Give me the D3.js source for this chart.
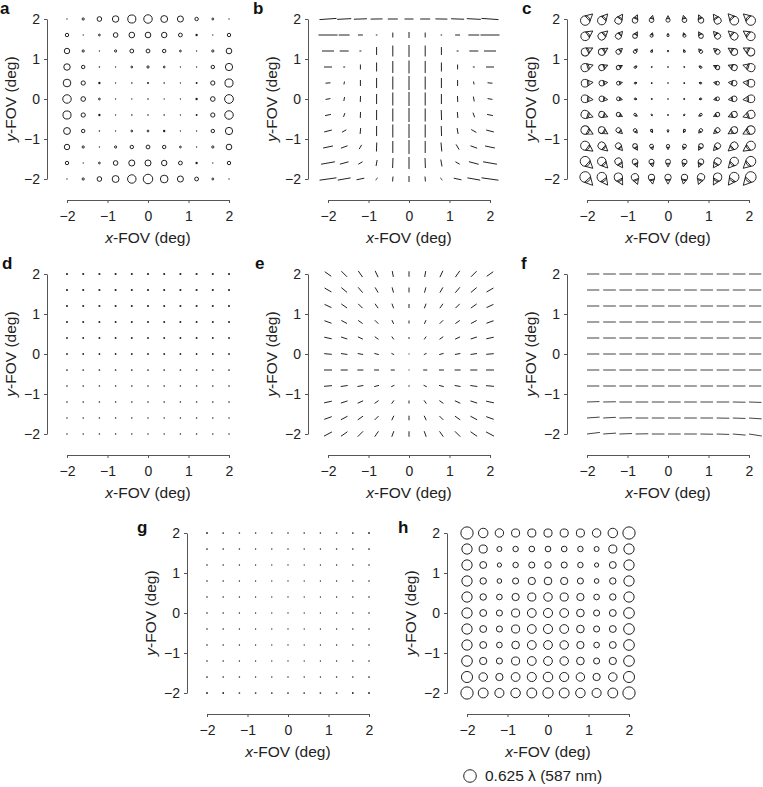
<!DOCTYPE html>
<html>
<head>
<meta charset="utf-8">
<script src="https://cdn.jsdelivr.net/npm/d3@7"></script>
<style>
body { margin: 0; background: #fff; }
svg { display: block; }
text { font-family: "Liberation Sans", Arial, Helvetica, sans-serif; fill: #222; }
.axis path, .axis line { stroke: #555; }
.axis text { font-family: "Liberation Sans", Arial, sans-serif; font-size: 14px; fill: #222; }
.lab { font-size: 15.5px; }
.letter { font-size: 17px; font-weight: bold; fill: #111; }
</style>
</head>
<body>
<svg width="763" height="787"></svg>
<script>
// Field grid (deg)
const xFov = [-2, -1.6, -1.2, -0.8, -0.4, 0, 0.4, 0.8, 1.2, 1.6, 2];
const yFov = [2, 1.6, 1.2, 0.8, 0.4, 0, -0.4, -0.8, -1.2, -1.6, -2];
const tickValues = [-2, -1, 0, 1, 2];
const legendValue = 0.625;
const legendLabel = "0.625 λ (587 nm)";

// a: defocus magnitude (waves), rows top (y=2) to bottom (y=-2)
const defocusA = [
  [0.02, 0.11, 0.23, 0.32, 0.40, 0.42, 0.34, 0.30, 0.17, 0.095, 0.02],
  [0.17, 0.02, 0.09, 0.23, 0.28, 0.28, 0.27, 0.19, 0.08, 0.02, 0.17],
  [0.27, 0.11, 0.02, 0.11, 0.19, 0.19, 0.17, 0.09, 0.02, 0.11, 0.28],
  [0.32, 0.17, 0.04, 0.02, 0.09, 0.11, 0.09, 0.02, 0.02, 0.17, 0.36],
  [0.38, 0.21, 0.08, 0.02, 0.04, 0.06, 0.04, 0.02, 0.06, 0.21, 0.40],
  [0.42, 0.23, 0.09, 0.02, 0.02, 0.04, 0.02, 0.02, 0.08, 0.23, 0.435],
  [0.40, 0.21, 0.08, 0.02, 0.04, 0.04, 0.04, 0.02, 0.06, 0.21, 0.42],
  [0.34, 0.17, 0.04, 0.02, 0.09, 0.09, 0.08, 0.02, 0.02, 0.17, 0.36],
  [0.27, 0.11, 0.02, 0.11, 0.17, 0.19, 0.17, 0.09, 0.02, 0.11, 0.28],
  [0.17, 0.02, 0.09, 0.23, 0.30, 0.30, 0.27, 0.19, 0.08, 0.02, 0.17],
  [0.02, 0.11, 0.23, 0.34, 0.42, 0.47, 0.38, 0.30, 0.19, 0.095, 0.02]
];

// b: astigmatism magnitude (waves) and axis angle (deg)
const astigB = [
  [0.97, 0.80, 0.74, 0.68, 0.57, 0.51, 0.57, 0.68, 0.74, 0.80, 0.97],
  [1.08, 0.62, 0.28, 0.085, 0.28, 0.34, 0.28, 0.085, 0.28, 0.62, 1.08],
  [0.68, 0.51, 0.11, 0.45, 0.62, 0.68, 0.62, 0.45, 0.11, 0.51, 0.68],
  [0.45, 0.11, 0.28, 0.51, 0.68, 0.74, 0.68, 0.51, 0.28, 0.11, 0.45],
  [0.28, 0.17, 0.34, 0.57, 0.74, 0.80, 0.74, 0.57, 0.34, 0.17, 0.28],
  [0.28, 0.23, 0.34, 0.57, 0.74, 0.80, 0.74, 0.57, 0.34, 0.28, 0.28],
  [0.34, 0.23, 0.34, 0.57, 0.74, 0.80, 0.74, 0.57, 0.34, 0.28, 0.34],
  [0.45, 0.28, 0.34, 0.57, 0.74, 0.80, 0.74, 0.57, 0.34, 0.34, 0.45],
  [0.57, 0.40, 0.28, 0.51, 0.68, 0.80, 0.68, 0.51, 0.34, 0.40, 0.57],
  [0.80, 0.51, 0.28, 0.34, 0.57, 0.68, 0.57, 0.40, 0.28, 0.57, 0.80],
  [0.97, 0.74, 0.45, 0.17, 0.28, 0.34, 0.28, 0.17, 0.45, 0.74, 0.97]
];
const astigAngB = [
  [4, 3, 2, 1, 0, 0, 0, -1, -2, -3, -4],
  [0, 0, 0, 0, 90, 90, 90, 0, 0, 0, 0],
  [0, 0, 0, 90, 90, 90, 90, 90, 0, 0, 0],
  [0, 0, 90, 90, 90, 90, 90, 90, 90, 0, 0],
  [5, 80, 90, 90, 90, 90, 90, 90, 90, 100, -5],
  [10, 80, 88, 90, 90, 90, 90, 90, 92, 100, -10],
  [12, 70, 88, 90, 90, 90, 90, 92, 95, 110, -12],
  [14, 30, 85, 90, 90, 90, 90, 92, 100, 150, -14],
  [12, 20, 60, 88, 90, 90, 90, 95, 120, 160, -12],
  [10, 15, 30, 80, 88, 90, 92, 100, 150, 165, -10],
  [8, 10, 12, 45, 85, 90, 95, 135, 168, 170, -8]
];

// c: coma magnitude (waves) and direction (deg)
const comaC = [
  [0.47, 0.42, 0.36, 0.28, 0.23, 0.21, 0.23, 0.28, 0.36, 0.435, 0.47],
  [0.435, 0.38, 0.30, 0.23, 0.15, 0.11, 0.15, 0.23, 0.30, 0.38, 0.435],
  [0.40, 0.34, 0.25, 0.17, 0.09, 0.06, 0.09, 0.17, 0.25, 0.34, 0.40],
  [0.40, 0.30, 0.21, 0.11, 0.04, 0.02, 0.04, 0.11, 0.21, 0.30, 0.40],
  [0.38, 0.28, 0.19, 0.09, 0.02, 0.01, 0.02, 0.09, 0.19, 0.28, 0.38],
  [0.38, 0.28, 0.19, 0.09, 0.03, 0.01, 0.03, 0.09, 0.19, 0.28, 0.38],
  [0.40, 0.30, 0.21, 0.13, 0.06, 0.04, 0.06, 0.13, 0.21, 0.30, 0.40],
  [0.42, 0.34, 0.25, 0.17, 0.11, 0.09, 0.11, 0.17, 0.25, 0.34, 0.42],
  [0.45, 0.38, 0.30, 0.23, 0.19, 0.17, 0.19, 0.23, 0.30, 0.38, 0.45],
  [0.49, 0.42, 0.36, 0.28, 0.25, 0.25, 0.25, 0.28, 0.36, 0.42, 0.49],
  [0.53, 0.47, 0.42, 0.36, 0.32, 0.32, 0.32, 0.36, 0.42, 0.47, 0.53]
];
const comaAngC = [
  [42, 48, 56, 66, 77, 90, 103, 114, 124, 132, 138],
  [35, 41, 49, 60, 74, 90, 106, 120, 131, 139, 145],
  [27, 32, 40, 51, 68, 90, 112, 129, 140, 148, 153],
  [17, 21, 27, 37, 56, 90, 124, 143, 153, 159, 163],
  [6, 7, 10, 14, 27, 90, 153, 166, 170, 173, 174],
  [-6, -7, -10, -14, -27, -90, -153, -166, -170, -173, -174],
  [-17, -21, -27, -37, -56, -90, -124, -143, -153, -159, -163],
  [-27, -32, -40, -51, -68, -90, -112, -129, -140, -148, -153],
  [-35, -41, -49, -60, -74, -90, -106, -120, -131, -139, -145],
  [-42, -48, -56, -66, -77, -90, -103, -114, -124, -132, -138],
  [-48, -54, -61, -70, -80, -90, -100, -110, -119, -126, -132]
];

// d: spherical (waves)
const sphericalD = [
  [0.07, 0.07, 0.07, 0.07, 0.07, 0.07, 0.07, 0.07, 0.07, 0.07, 0.07],
  [0.07, 0.07, 0.07, 0.07, 0.07, 0.07, 0.07, 0.07, 0.07, 0.07, 0.07],
  [0.065, 0.065, 0.065, 0.065, 0.065, 0.065, 0.065, 0.065, 0.065, 0.065, 0.065],
  [0.06, 0.06, 0.06, 0.06, 0.06, 0.06, 0.06, 0.06, 0.06, 0.06, 0.06],
  [0.055, 0.055, 0.055, 0.055, 0.055, 0.055, 0.055, 0.055, 0.055, 0.055, 0.055],
  [0.05, 0.05, 0.05, 0.05, 0.05, 0.05, 0.05, 0.05, 0.05, 0.05, 0.05],
  [0.045, 0.045, 0.045, 0.045, 0.045, 0.045, 0.045, 0.045, 0.045, 0.045, 0.045],
  [0.04, 0.04, 0.04, 0.04, 0.04, 0.04, 0.04, 0.04, 0.04, 0.04, 0.04],
  [0.04, 0.04, 0.04, 0.04, 0.04, 0.04, 0.04, 0.04, 0.04, 0.04, 0.04],
  [0.035, 0.035, 0.035, 0.035, 0.035, 0.035, 0.035, 0.035, 0.035, 0.035, 0.035],
  [0.035, 0.035, 0.035, 0.035, 0.035, 0.035, 0.035, 0.035, 0.035, 0.035, 0.035]
];

// e: second astigmatism magnitude (waves) and angle (deg)
const astigE = [
  [0.45, 0.45, 0.43, 0.40, 0.34, 0.31, 0.34, 0.40, 0.43, 0.45, 0.45],
  [0.45, 0.43, 0.40, 0.34, 0.31, 0.28, 0.31, 0.34, 0.40, 0.43, 0.45],
  [0.43, 0.40, 0.34, 0.31, 0.28, 0.23, 0.28, 0.31, 0.34, 0.40, 0.43],
  [0.43, 0.37, 0.31, 0.28, 0.23, 0.17, 0.23, 0.28, 0.31, 0.37, 0.43],
  [0.43, 0.37, 0.31, 0.26, 0.20, 0.11, 0.20, 0.26, 0.31, 0.37, 0.43],
  [0.43, 0.37, 0.31, 0.26, 0.17, 0.06, 0.17, 0.26, 0.31, 0.37, 0.43],
  [0.45, 0.40, 0.34, 0.28, 0.23, 0.06, 0.23, 0.28, 0.34, 0.40, 0.45],
  [0.45, 0.40, 0.34, 0.28, 0.20, 0.085, 0.20, 0.28, 0.34, 0.40, 0.45],
  [0.45, 0.40, 0.34, 0.28, 0.23, 0.17, 0.23, 0.28, 0.34, 0.40, 0.45],
  [0.45, 0.43, 0.37, 0.31, 0.28, 0.26, 0.28, 0.31, 0.37, 0.43, 0.45],
  [0.51, 0.45, 0.43, 0.37, 0.34, 0.31, 0.34, 0.37, 0.43, 0.45, 0.51]
];
const astigAngE = [
  [-35, -45, -55, -65, -80, 90, 80, 65, 55, 45, 35],
  [-30, -40, -50, -60, -75, 90, 75, 60, 50, 40, 30],
  [-25, -35, -45, -55, -70, 90, 70, 55, 45, 35, 25],
  [-20, -28, -35, -45, -65, 90, 65, 45, 35, 28, 20],
  [-12, -18, -25, -35, -55, 90, 55, 35, 25, 18, 12],
  [-5, -8, -10, -15, -25, 90, 25, 15, 10, 8, 5],
  [0, 0, 0, 0, 0, 0, 0, 0, 0, 0, 0],
  [5, 8, 10, 15, 25, 90, -25, -15, -10, -8, -5],
  [12, 18, 25, 35, 55, 90, -55, -35, -25, -18, -12],
  [20, 28, 35, 45, 65, 90, -65, -45, -35, -28, -20],
  [28, 35, 45, 55, 70, 90, -70, -55, -45, -35, -28]
];

// f: tilt magnitude (waves) and angle (deg)
const tiltF = [
  [0.70, 0.72, 0.72, 0.72, 0.72, 0.72, 0.72, 0.72, 0.72, 0.72, 0.70],
  [0.70, 0.72, 0.72, 0.72, 0.72, 0.72, 0.72, 0.72, 0.72, 0.72, 0.70],
  [0.70, 0.72, 0.72, 0.72, 0.72, 0.72, 0.72, 0.72, 0.72, 0.72, 0.70],
  [0.70, 0.72, 0.72, 0.72, 0.72, 0.72, 0.72, 0.72, 0.72, 0.72, 0.70],
  [0.70, 0.72, 0.72, 0.72, 0.72, 0.72, 0.72, 0.72, 0.72, 0.72, 0.70],
  [0.70, 0.72, 0.72, 0.72, 0.72, 0.72, 0.72, 0.72, 0.72, 0.72, 0.70],
  [0.70, 0.72, 0.72, 0.72, 0.72, 0.72, 0.72, 0.72, 0.72, 0.72, 0.70],
  [0.70, 0.72, 0.72, 0.72, 0.72, 0.72, 0.72, 0.72, 0.72, 0.72, 0.70],
  [0.71, 0.72, 0.72, 0.72, 0.72, 0.72, 0.72, 0.72, 0.72, 0.72, 0.71],
  [0.72, 0.72, 0.72, 0.72, 0.72, 0.72, 0.72, 0.72, 0.72, 0.72, 0.72],
  [0.74, 0.73, 0.72, 0.72, 0.72, 0.72, 0.72, 0.72, 0.72, 0.73, 0.74]
];
const tiltAngF = [
  [0, 0, 0, 0, 0, 0, 0, 0, 0, 0, 0],
  [0, 0, 0, 0, 0, 0, 0, 0, 0, 0, 0],
  [0, 0, 0, 0, 0, 0, 0, 0, 0, 0, 0],
  [0, 0, 0, 0, 0, 0, 0, 0, 0, 0, 0],
  [0, 0, 0, 0, 0, 0, 0, 0, 0, 0, 0],
  [0, 0, 0, 0, 0, 0, 0, 0, 0, 0, 0],
  [0, 0, 0, 0, 0, 0, 0, 0, 0, 0, 0],
  [0, 0, 0, 0, 0, 0, 0, 0, 0, 0, 0],
  [2, 1, 0, 0, 0, 0, 0, 0, 0, -1, -2],
  [4, 3, 1, 0, 0, 0, 0, 0, -1, -2, -4],
  [7, 4, 2, 1, 0, 0, 0, -1, -2, -5, -9]
];

// g: residual (waves)
const residualG = [
  [0.05, 0.045, 0.04, 0.04, 0.04, 0.04, 0.04, 0.04, 0.04, 0.045, 0.05],
  [0.045, 0.04, 0.035, 0.03, 0.03, 0.03, 0.03, 0.03, 0.035, 0.04, 0.045],
  [0.04, 0.035, 0.03, 0.025, 0.02, 0.02, 0.02, 0.025, 0.03, 0.035, 0.04],
  [0.04, 0.035, 0.03, 0.025, 0.02, 0.02, 0.02, 0.025, 0.03, 0.035, 0.04],
  [0.04, 0.035, 0.03, 0.025, 0.02, 0.02, 0.02, 0.025, 0.03, 0.035, 0.04],
  [0.04, 0.035, 0.03, 0.025, 0.02, 0.02, 0.02, 0.025, 0.03, 0.035, 0.04],
  [0.04, 0.035, 0.03, 0.025, 0.02, 0.02, 0.02, 0.025, 0.03, 0.035, 0.04],
  [0.04, 0.035, 0.03, 0.025, 0.02, 0.02, 0.02, 0.025, 0.03, 0.035, 0.04],
  [0.04, 0.035, 0.03, 0.025, 0.02, 0.02, 0.02, 0.025, 0.03, 0.035, 0.04],
  [0.045, 0.04, 0.035, 0.03, 0.03, 0.03, 0.03, 0.03, 0.035, 0.04, 0.045],
  [0.055, 0.05, 0.045, 0.045, 0.045, 0.045, 0.045, 0.045, 0.045, 0.05, 0.055]
];

// h: RMS wavefront error (waves)
const rmsH = [
  [0.61, 0.47, 0.42, 0.40, 0.40, 0.40, 0.40, 0.40, 0.42, 0.47, 0.61],
  [0.51, 0.40, 0.25, 0.27, 0.28, 0.28, 0.28, 0.27, 0.25, 0.40, 0.51],
  [0.51, 0.34, 0.21, 0.27, 0.30, 0.32, 0.30, 0.27, 0.21, 0.34, 0.51],
  [0.51, 0.32, 0.23, 0.30, 0.36, 0.38, 0.36, 0.30, 0.23, 0.32, 0.51],
  [0.51, 0.32, 0.28, 0.36, 0.40, 0.42, 0.40, 0.36, 0.28, 0.32, 0.51],
  [0.51, 0.34, 0.30, 0.40, 0.435, 0.45, 0.435, 0.38, 0.30, 0.34, 0.53],
  [0.51, 0.34, 0.30, 0.40, 0.435, 0.45, 0.435, 0.38, 0.30, 0.34, 0.53],
  [0.51, 0.34, 0.28, 0.38, 0.435, 0.435, 0.42, 0.36, 0.28, 0.34, 0.53],
  [0.53, 0.36, 0.30, 0.40, 0.435, 0.435, 0.42, 0.38, 0.30, 0.36, 0.53],
  [0.55, 0.42, 0.36, 0.435, 0.45, 0.47, 0.45, 0.42, 0.36, 0.42, 0.55],
  [0.61, 0.49, 0.45, 0.47, 0.49, 0.51, 0.49, 0.47, 0.45, 0.49, 0.61]
];

// The svg
let svg = d3.select("svg");

// waves -> circle radius in px (legend circle is 0.625 waves)
let radius = d3.scaleLinear().domain([0, legendValue]).range([0, 6.3]);
// waves -> half length of a line glyph in px
let half = d3.scaleLinear().domain([0, legendValue]).range([0, 5.5]);
let rad = Math.PI / 180;
let fmt = d3.format("d");

function cells(mag, ang) {
  let out = [];
  yFov.forEach(function(y, i) {
    xFov.forEach(function(x, j) {
      out.push({x: x, y: y, v: mag[i][j], a: ang ? ang[i][j] : 0});
    });
  });
  return out;
}

// panel layout: y-axis position, top of plot, letter offset
let panels = [
  {id: "a", ax: 47,  top: 19,  lx: -47, ly: -5, kind: "circle", d: cells(defocusA)},
  {id: "b", ax: 308, top: 19,  lx: -55, ly: -5, kind: "line", d: cells(astigB, astigAngB)},
  {id: "c", ax: 567, top: 19,  lx: -45, ly: -5, kind: "coma", d: cells(comaC, comaAngC)},
  {id: "d", ax: 47,  top: 274, lx: -45, ly: -5, kind: "circle", d: cells(sphericalD)},
  {id: "e", ax: 308, top: 274, lx: -53, ly: -5, kind: "line", d: cells(astigE, astigAngE)},
  {id: "f", ax: 567, top: 274, lx: -46, ly: -5, kind: "vector", d: cells(tiltF, tiltAngF)},
  {id: "g", ax: 187, top: 533, lx: -50, ly: 0,  kind: "circle", d: cells(residualG)},
  {id: "h", ax: 447, top: 533, lx: -49, ly: 0,  kind: "circle", d: cells(rmsH), legend: true}
];

panels.forEach(function(p) {
  let g = svg.append("g").attr("transform", "translate(" + p.ax + "," + p.top + ")");
  let x = d3.scaleLinear().domain([-2, 2]).range([20, 182]);
  let y = d3.scaleLinear().domain([-2, 2]).range([160, 0]);

  // Axes
  g.append("g").attr("class", "axis")
    .call(d3.axisLeft(y).tickValues(tickValues).tickFormat(fmt)
      .tickSize(3).tickPadding(4).tickSizeOuter(0));
  g.append("g").attr("class", "axis")
    .attr("transform", "translate(0,181)")
    .call(d3.axisBottom(x).tickValues(tickValues).tickFormat(fmt)
      .tickSize(3).tickPadding(8).tickSizeOuter(0));

  // Axis labels
  let xl = g.append("text").attr("class", "lab")
    .attr("x", 101).attr("y", 224).attr("text-anchor", "middle");
  xl.append("tspan").attr("font-style", "italic").text("x");
  xl.append("tspan").text("-FOV (deg)");
  let yl = g.append("text").attr("class", "lab")
    .attr("transform", "translate(-31,80) rotate(-90)").attr("text-anchor", "middle");
  yl.append("tspan").attr("font-style", "italic").text("y");
  yl.append("tspan").text("-FOV (deg)");

  // Panel letter
  g.append("text").attr("class", "letter").attr("x", p.lx).attr("y", p.ly).text(p.id);

  // Marks
  let m = g.append("g").attr("fill", "none").attr("stroke", "#222");
  if (p.kind === "circle") {
    // tiny values are drawn as filled dots
    m.selectAll("circle").data(p.d).enter().append("circle")
      .attr("cx", function(d) { return x(d.x); })
      .attr("cy", function(d) { return y(d.y); })
      .attr("r", function(d) { let r = radius(d.v); return r < 0.9 ? r * 0.9 + 0.45 : r; })
      .attr("fill", function(d) { return radius(d.v) < 0.9 ? "#222" : "none"; })
      .attr("stroke", function(d) { return radius(d.v) < 0.9 ? "none" : "#222"; })
      .attr("stroke-width", 1);
  } else if (p.kind === "line") {
    m.selectAll("line").data(p.d).enter().append("line")
      .attr("x1", function(d) { return x(d.x) - half(d.v) * Math.cos(d.a * rad); })
      .attr("y1", function(d) { return y(d.y) + half(d.v) * Math.sin(d.a * rad); })
      .attr("x2", function(d) { return x(d.x) + half(d.v) * Math.cos(d.a * rad); })
      .attr("y2", function(d) { return y(d.y) - half(d.v) * Math.sin(d.a * rad); })
      .attr("stroke-width", 1);
  } else if (p.kind === "vector") {
    m.attr("stroke", "#444");
    m.selectAll("line").data(p.d).enter().append("line")
      .attr("x1", function(d) { return x(d.x); })
      .attr("y1", function(d) { return y(d.y); })
      .attr("x2", function(d) { return x(d.x) + 2 * half(d.v) * Math.cos(d.a * rad); })
      .attr("y2", function(d) { return y(d.y) - 2 * half(d.v) * Math.sin(d.a * rad); })
      .attr("stroke-width", 1);
  } else if (p.kind === "coma") {
    let glyph = m.selectAll("g").data(p.d).enter().append("g")
      .attr("transform", function(d) {
        let r = radius(d.v);
        let cx = x(d.x) - 0.5 * r * Math.cos(d.a * rad);
        let cy = y(d.y) + 0.5 * r * Math.sin(d.a * rad);
        return "translate(" + cx + "," + cy + ") rotate(" + (-d.a) + ")";
      });
    glyph.append("circle")
      .attr("r", function(d) { return Math.max(radius(d.v), 0.4); })
      .attr("stroke-width", 0.9);
    glyph.append("path")
      .attr("d", function(d) {
        let r = radius(d.v), c = Math.cos(50 * rad) * r, s = Math.sin(50 * rad) * r;
        return "M" + c + "," + (-s) + "L" + (2.1 * r) + ",0L" + c + "," + s + "Z";
      })
      .attr("stroke-width", 0.9)
      .attr("stroke-linejoin", "round");
  }

  // Legend under panel h
  if (p.legend) {
    g.append("circle").attr("cx", 23).attr("cy", 243).attr("r", radius(legendValue))
      .attr("fill", "none").attr("stroke", "#222").attr("stroke-width", 1);
    g.append("text").attr("class", "lab").attr("x", 38).attr("y", 248).text(legendLabel);
  }
});
</script>
</body>
</html>
